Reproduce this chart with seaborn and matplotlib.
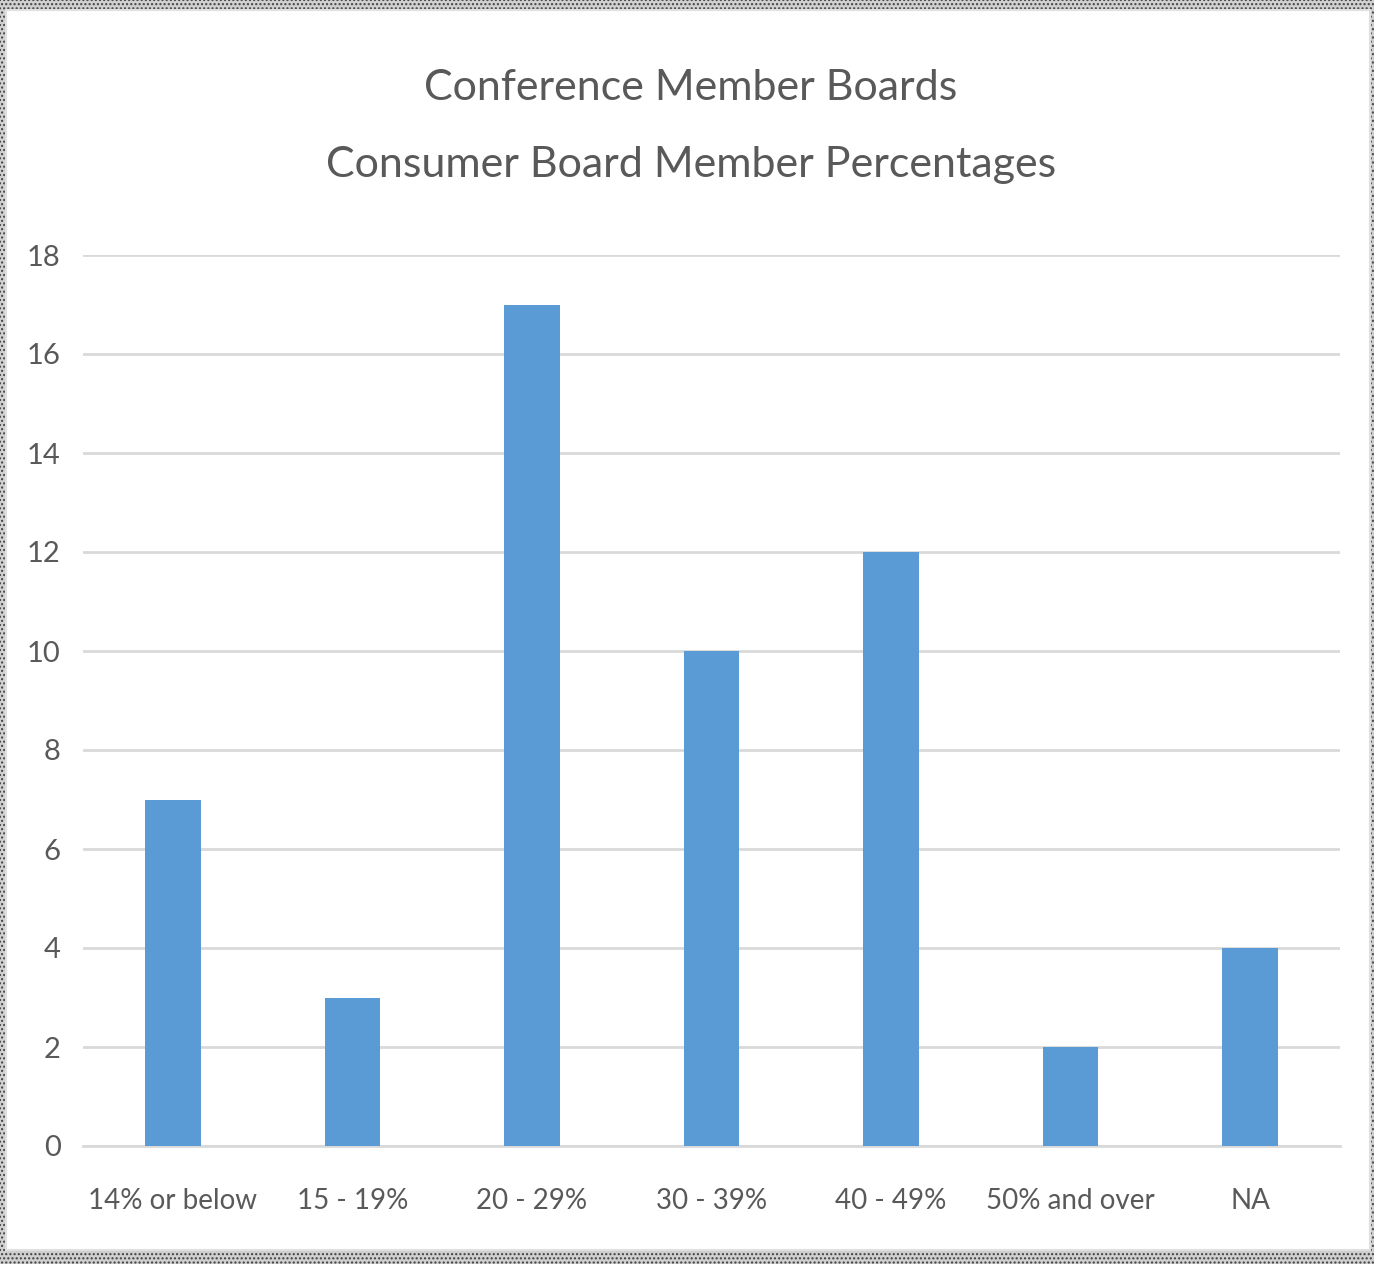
import matplotlib
matplotlib.use("Agg")
import matplotlib.pyplot as plt
from matplotlib.patches import Rectangle
import pandas as pd
import seaborn as sns

categories = ["14% or below", "15 - 19%", "20 - 29%", "30 - 39%", "40 - 49%", "50% and over", "NA"]
counts = [7, 3, 17, 10, 12, 2, 4]
title_lines = ["Conference Member Boards", "Consumer Board Member Percentages"]
y_ticks = [0, 2, 4, 6, 8, 10, 12, 14, 16, 18]

sns.set_theme(style="white")
plt.rcParams["font.family"] = ["Lato", "DejaVu Sans"]

W, H = 1374, 1264
fig = plt.figure(figsize=(W / 100, H / 100), dpi=100)
fig.patch.set_facecolor("#c8c8c8")

# dotted frame look around the chart
fig.patches.append(Rectangle((0, 0), 1, 1, transform=fig.transFigure, facecolor="#d0d0d0",
                             edgecolor="#404040", hatch="....", linewidth=0, zorder=0))
fig.patches.append(Rectangle((6 / W, 1 - 1250 / H), (1370 - 6) / W, (1250 - 10) / H,
                             transform=fig.transFigure, facecolor="white",
                             edgecolor="#e0e0e0", linewidth=1.5, zorder=1))

ax = fig.add_axes([83 / W, 1 - 1146 / H, (1340 - 83) / W, (1146 - 255) / H])
ax.set_zorder(2)
ax.patch.set_alpha(0)

df = pd.DataFrame({"category": categories, "count": counts})
sns.barplot(data=df, x="category", y="count", color="#5B9BD5", saturation=1,
            width=0.31, linewidth=0, ax=ax, zorder=3)

ax.set_ylim(0, 18)
ax.set_xlim(-0.5, len(categories) - 0.5)
ax.set_yticks(y_ticks)
ax.yaxis.grid(True, color="#d9d9d9", linewidth=2)
ax.set_axisbelow(True)
for s in ["top", "right", "left"]:
    ax.spines[s].set_visible(False)
ax.spines["bottom"].set_color("#d9d9d9")
ax.spines["bottom"].set_linewidth(2)
ax.set_xlabel("")
ax.set_ylabel("")
ax.tick_params(axis="both", length=0, labelsize=20, colors="#595959")
ax.tick_params(axis="y", labelsize=21, pad=16)
ax.tick_params(axis="x", pad=30)

fig.text(691 / W, 1 - 88 / H, title_lines[0], ha="center", va="center",
         fontsize=31, color="#595959")
fig.text(691 / W, 1 - 165 / H, title_lines[1], ha="center", va="center",
         fontsize=31, color="#595959")

fig.savefig("out.png", dpi=100)
